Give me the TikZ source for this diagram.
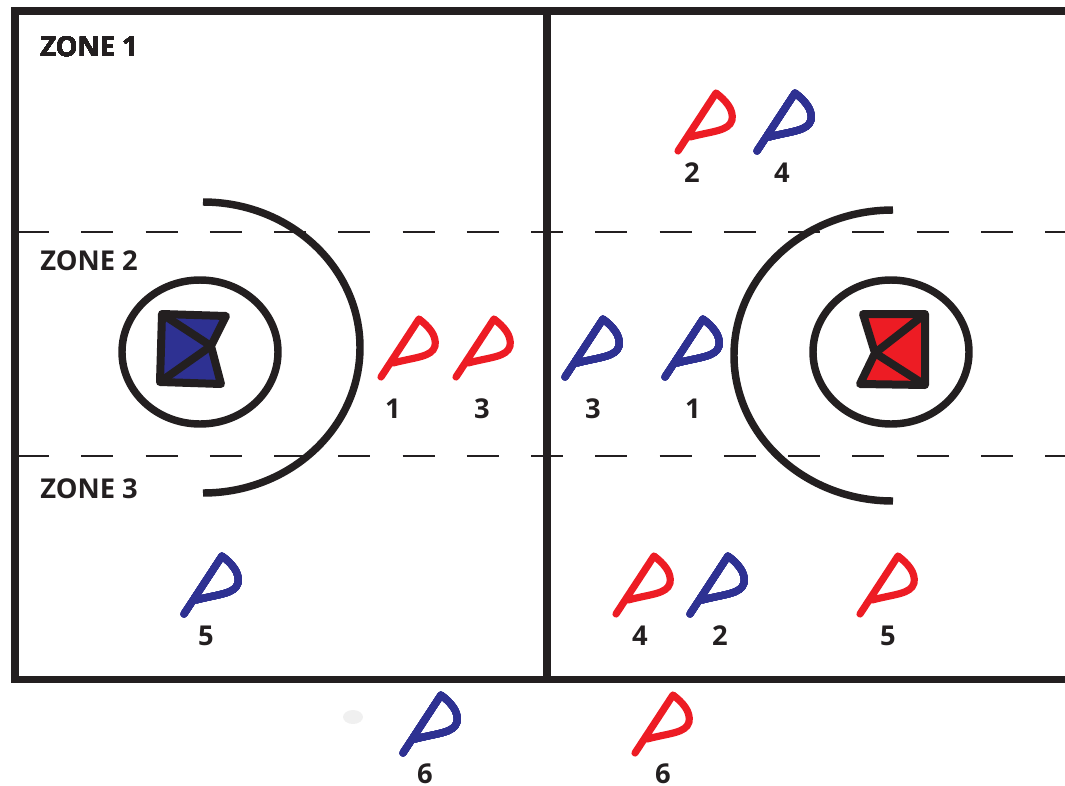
\documentclass[tikz,border=0pt]{standalone}
\usepackage{fontspec}
\setmainfont{Open Sans}
\usepackage{xcolor}
\definecolor{inkblack}{HTML}{231F20}
\definecolor{teamblue}{HTML}{2E3192}
\definecolor{teamred}{HTML}{ED1C24}
\tikzstyle{frameline}=[draw=inkblack,line width=5.6pt]
\tikzstyle{zoneline}=[draw=inkblack,line width=1.4pt,dash pattern=on 24pt off 24.2pt]
\tikzstyle{crease}=[draw=inkblack,line width=5.6pt]
\tikzstyle{goalline}=[draw=inkblack,line width=6pt,line join=round]
\tikzstyle{zonelabel}=[anchor=west,inner sep=0pt,text=inkblack,font=\fontsize{20.5}{22}\selectfont\bfseries]
\tikzstyle{playerlabel}=[inner sep=0pt,text=inkblack,font=\fontsize{20.5}{22}\selectfont\bfseries]
\tikzstyle{stick}=[line width=5.4pt,line cap=round,line join=round]
\newcommand{\lacrosse}[2]{
	\draw[stick,#2,shift={(#1)}] (0,0) -- (38,-58) .. controls (47,-51) and (56,-42) .. (54,-31)
		.. controls (51,-20) and (35,-20) .. (12,-14);
}
\begin{document}
\begin{tikzpicture}[x=0.75pt,y=-0.75pt]
	\useasboundingbox (0,0) rectangle (1065,786);
	% field
	\draw[zoneline] (17,232) -- (1065,232);
	\draw[zoneline] (17,456) -- (1065,456);
	\draw[frameline] (1070,11) -- (15,11) -- (15,679.5) -- (1070,679.5);
	\draw[frameline] (547,11) -- (547,679.5);
	\fill[gray!12] (353,717) ellipse [x radius=10,y radius=7];
	% creases
	\draw[crease] (203,202) arc [start angle=-90,end angle=90,x radius=157,y radius=145.5];
	\draw[crease] (893,210) arc [start angle=-90,end angle=-270,x radius=159,y radius=145.5];
	\draw[crease] (200,352) ellipse [x radius=78,y radius=72];
	\draw[crease] (891,352) ellipse [x radius=78,y radius=72];
	% goals
	\draw[goalline,fill=teamblue] (162,314) -- (226,316) -- (211,346) -- (221,384) -- (160,382) -- cycle;
	\draw[goalline] (162,314) -- (211,346) -- (160,382);
	\draw[goalline,fill=teamred] (863,314) -- (925,314) -- (925,385) -- (860,384) -- (875,353) -- cycle;
	\draw[goalline] (925,314) -- (875,353) -- (925,385);
	% players
	\foreach \px/\py in {678/151,381/377,456/377,616/614,860/614,635/753}
		\lacrosse{\px,\py}{teamred}
	\foreach \px/\py in {757/151,565/377,665/377,184/614,690/614,403/753}
		\lacrosse{\px,\py}{teamblue}
	% labels
	\node[zonelabel] (zone1) at (40,47) {ZONE 1};
	\node[zonelabel] (zone2) at (40,261) {ZONE 2};
	\node[zonelabel] (zone3) at (40,489) {ZONE 3};
	\foreach \lname/\lx/\ly/\ltext in {r2/692/173/2,b4/782/173/4,r1/393/409/1,r3/482/409/3,b3/593/409/3,b1/693/409/1,b5/206/636/5,r4/640/636/4,b2/720/636/2,r5/888/636/5,b6/425/774/6,r6/663/774/6}
		\node[playerlabel] (\lname) at (\lx,\ly) {\ltext};
\end{tikzpicture}
\end{document}
